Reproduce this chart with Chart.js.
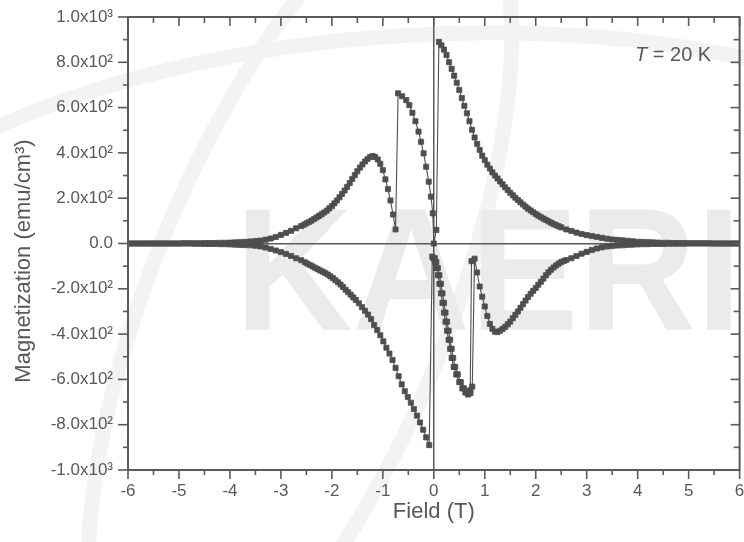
<!DOCTYPE html>
<html>
<head>
<meta charset="utf-8">
<script src="https://cdn.jsdelivr.net/npm/chart.js@4.4.0/dist/chart.umd.min.js"></script>
<style>
  html, body { margin: 0; padding: 0; background: #ffffff; }
  canvas { display: block; }
</style>
</head>
<body>
<canvas id="loop" width="744" height="542"></canvas>
<script>
// M(H) hysteresis loop at T = 20 K. Pairs are [field (T), magnetization (emu/cm^3)].

// Upper branch, field rising
const upperLeft = [
  [-6.0,0],[-5.9,0],[-5.8,0],[-5.7,0],[-5.6,0],[-5.5,0],[-5.4,0],[-5.3,0],[-5.2,0],[-5.1,0],[-5.0,0],
  [-4.9,1],[-4.8,1],[-4.7,1],[-4.6,1],[-4.5,2],[-4.4,2],[-4.3,2],[-4.2,3],[-4.1,3],[-4.0,4],
  [-3.9,5],[-3.8,6],[-3.7,7],[-3.6,9],[-3.5,11],[-3.4,13],[-3.3,17],[-3.2,22],[-3.1,29],[-3.0,38],
  [-2.9,47],[-2.8,56],[-2.7,67],[-2.6,77],[-2.55,83],[-2.5,89],[-2.45,95],[-2.4,101],[-2.35,108],
  [-2.3,115],[-2.25,122],[-2.2,129],[-2.15,137],[-2.1,145],[-2.05,155],[-2.0,165],[-1.95,177],
  [-1.9,190],[-1.85,204],[-1.8,219],[-1.75,234],[-1.7,250],[-1.65,267],[-1.6,285],[-1.55,302],
  [-1.5,319],[-1.45,335],[-1.4,349],[-1.35,362],[-1.3,373],[-1.25,382],[-1.2,386],[-1.15,382],
  [-1.1,371],[-1.05,352],[-1.0,324],[-0.95,283],[-0.9,240],[-0.85,190],[-0.8,128],[-0.75,62]
];
const upperMiddle = [
  [-0.70,663],[-0.62,650],[-0.54,633],[-0.48,611],[-0.42,577],[-0.36,540],[-0.30,494],[-0.25,449],
  [-0.20,398],[-0.15,339],[-0.10,273],[-0.055,207],[-0.02,133],[0.0,0],[0.05,60]
];
const upperRight = [
  [0.10,890],[0.15,875],[0.20,856],[0.25,832],[0.30,800],[0.35,771],[0.40,741],[0.45,710],
  [0.50,678],[0.55,642],[0.60,608],[0.65,575],[0.70,540],[0.75,502],[0.80,468],[0.85,440],
  [0.90,413],[0.95,388],[1.00,368],[1.05,348],[1.10,331],[1.15,314],[1.20,300],[1.25,287],
  [1.30,274],[1.35,261],[1.40,248],[1.45,236],[1.50,224],[1.55,213],[1.60,202],[1.65,192],
  [1.70,182],[1.75,172],[1.80,163],[1.85,154],[1.90,146],[1.95,138],[2.00,130],[2.05,123],
  [2.10,116],[2.15,110],[2.20,104],[2.25,98],[2.30,92],[2.35,86],[2.40,81],[2.45,76],[2.50,71],
  [2.6,62],[2.7,55],[2.8,48],[2.9,42],[3.0,37],[3.1,33],[3.2,29],[3.3,25],[3.4,21],[3.5,18],
  [3.6,16],[3.7,14],[3.8,12],[3.9,10],[4.0,8],[4.1,7],[4.2,6],[4.3,5],[4.4,4],[4.5,3],[4.6,3],
  [4.7,2],[4.8,2],[4.9,2],[5.0,1],[5.1,1],[5.2,1],[5.3,1],[5.4,1],[5.5,0],[5.6,0],[5.7,0],
  [5.8,0],[5.9,0],[6.0,0]
];

// Lower branch, field falling
const lowerRight = [
  [6.0,0],[5.9,0],[5.8,0],[5.7,0],[5.6,0],[5.5,0],[5.4,0],[5.3,0],[5.2,0],[5.1,0],[5.0,0],
  [4.9,-1],[4.8,-1],[4.7,-1],[4.6,-1],[4.5,-2],[4.4,-2],[4.3,-2],[4.2,-3],[4.1,-3],[4.0,-4],
  [3.9,-5],[3.8,-6],[3.7,-8],[3.6,-9],[3.5,-11],[3.4,-13],[3.3,-17],[3.2,-22],[3.1,-29],[3.0,-37],
  [2.9,-45],[2.8,-55],[2.7,-65],[2.6,-73],[2.55,-77],[2.5,-82],[2.45,-89],[2.4,-97],[2.35,-106],
  [2.3,-116],[2.25,-127],[2.2,-140],[2.15,-155],[2.1,-169],[2.05,-182],[2.0,-196],[1.95,-209],
  [1.9,-222],[1.85,-236],[1.8,-252],[1.75,-268],[1.7,-284],[1.65,-300],[1.6,-315],[1.55,-330],
  [1.5,-345],[1.45,-357],[1.4,-368],[1.35,-377],[1.3,-385],[1.25,-391],[1.2,-389],[1.15,-377],
  [1.1,-355],[1.05,-320],[1.0,-278],[0.95,-235],[0.9,-190],[0.85,-128],[0.8,-67]
];
const lowerMiddle = [
  [0.755,-632],[0.72,-660],[0.68,-664],[0.64,-655],[0.59,-639],[0.53,-612],[0.47,-578],[0.42,-545],
  [0.38,-505],[0.35,-465],[0.32,-425],[0.29,-385],[0.26,-345],[0.23,-305],[0.20,-262],[0.17,-220],
  [0.14,-178],[0.11,-140],[0.08,-108],[0.05,-82],[0.02,-65],[-0.03,-58]
];
const lowerLeft = [
  [-0.09,-890],[-0.15,-856],[-0.21,-822],[-0.27,-790],[-0.33,-760],[-0.39,-731],[-0.45,-703],
  [-0.51,-678],[-0.57,-652],[-0.63,-622],[-0.69,-586],[-0.75,-549],[-0.81,-514],[-0.87,-486],
  [-0.93,-460],[-0.99,-432],[-1.05,-405],[-1.11,-382],[-1.17,-360],[-1.23,-334],[-1.29,-314],
  [-1.35,-297],[-1.41,-281],[-1.47,-264],[-1.53,-249],[-1.58,-238],[-1.63,-226],[-1.68,-215],
  [-1.73,-204],[-1.78,-192],[-1.83,-181],[-1.88,-171],[-1.93,-162],[-1.98,-153],[-2.03,-145],
  [-2.08,-137],[-2.13,-130],[-2.18,-124],[-2.23,-119],[-2.28,-113],[-2.33,-107],[-2.38,-101],
  [-2.43,-95],[-2.48,-89],[-2.53,-83],[-2.6,-74],[-2.7,-65],[-2.8,-55],[-2.9,-46],[-3.0,-38],
  [-3.1,-31],[-3.2,-24],[-3.3,-18],[-3.4,-13],[-3.5,-10],[-3.6,-8],[-3.7,-7],[-3.8,-6],[-3.9,-5],
  [-4.0,-4],[-4.1,-3],[-4.2,-3],[-4.3,-2],[-4.4,-2],[-4.5,-2],[-4.6,-1],[-4.7,-1],[-4.8,0],
  [-4.9,0],[-5.0,0],[-5.1,0],[-5.2,0],[-5.3,0],[-5.4,0],[-5.5,0],[-5.6,0],[-5.7,0],[-5.8,0],
  [-5.9,0],[-6.0,0]
];
// Second pass through the low-field part of the falling branch
const lowerRepeat = [
  [0.74,-78],[0.715,-648],[0.67,-667],[0.62,-658],[0.56,-640],[0.50,-612],[0.44,-578],[0.39,-545],
  [0.35,-505],[0.32,-465],[0.29,-425],[0.26,-385],[0.23,-345],[0.20,-305],[0.17,-262],[0.14,-220],
  [0.11,-178],[0.08,-140],[0.05,-108],[0.02,-82],[-0.01,-65]
];

// Axis ticks
const fieldTicks = [-6, -5, -4, -3, -2, -1, 0, 1, 2, 3, 4, 5, 6];
const magTickValues = [-1000, -800, -600, -400, -200, 0, 200, 400, 600, 800, 1000];
const magTickLabels = ['-1.0x10\u00B3', '-8.0x10\u00B2', '-6.0x10\u00B2', '-4.0x10\u00B2', '-2.0x10\u00B2',
  '0.0', '2.0x10\u00B2', '4.0x10\u00B2', '6.0x10\u00B2', '8.0x10\u00B2', '1.0x10\u00B3'];

const FONT = '"Liberation Sans", Arial, Helvetica, sans-serif';
const INK = '#585858';
const AXIS = '#5a5a5a';
const MARK = '#4e4e4e';

const toPoints = pairs => pairs.map(([x, y]) => ({ x, y }));

const markStyle = {
  showLine: true,
  borderColor: MARK,
  borderWidth: 1.1,
  pointStyle: 'rect',
  pointRadius: 3.6,
  pointHoverRadius: 3.6,
  pointBackgroundColor: MARK,
  pointBorderColor: MARK,
  pointBorderWidth: 0.8,
  tension: 0,
  fill: false
};

// Background mark: faint orbit bands and lettering
const watermark = {
  id: 'watermark',
  beforeDraw(chart) {
    const { ctx, width, height } = chart;
    ctx.save();
    ctx.fillStyle = '#ffffff';
    ctx.fillRect(0, 0, width, height);
    ctx.strokeStyle = '#f3f3f3';
    ctx.lineWidth = 15;
    ctx.beginPath();
    ctx.ellipse(420, 300, 620, 265, -0.06, Math.PI, 2 * Math.PI);
    ctx.stroke();
    ctx.beginPath();
    ctx.ellipse(300, 300, 150, 430, 0.38, 0, 2 * Math.PI);
    ctx.stroke();
    ctx.translate(235, 330);
    ctx.scale(0.93, 1);
    ctx.fillStyle = '#ebebeb';
    ctx.font = 'bold 175px ' + FONT;
    ctx.textBaseline = 'alphabetic';
    ctx.fillText('KAERI', 0, 0);
    ctx.restore();
  }
};

// Box frame, major/minor tick marks, y title and temperature note
const frame = {
  id: 'frame',
  afterDraw(chart) {
    const { ctx } = chart;
    const xs = chart.scales.x, ys = chart.scales.y;
    const { left, right, top, bottom } = chart.chartArea;
    ctx.save();
    ctx.strokeStyle = AXIS;
    ctx.lineWidth = 2;
    ctx.strokeRect(left, top, right - left, bottom - top);
    const seg = (x1, y1, x2, y2) => { ctx.beginPath(); ctx.moveTo(x1, y1); ctx.lineTo(x2, y2); ctx.stroke(); };
    ctx.lineWidth = 1.6;
    const xv = xs.ticks.map(t => t.value);
    xv.forEach((v, i) => {
      const p = xs.getPixelForValue(v);
      seg(p, bottom, p, bottom + 9);
      seg(p, top, p, top + 9);
      if (i < xv.length - 1) {
        const q = xs.getPixelForValue((v + xv[i + 1]) / 2);
        seg(q, bottom, q, bottom + 5);
        seg(q, top, q, top + 6);
      }
    });
    const yv = ys.ticks.map(t => t.value);
    yv.forEach((v, i) => {
      const p = ys.getPixelForValue(v);
      seg(left - 10, p, left, p);
      seg(right - 9, p, right, p);
      if (i < yv.length - 1) {
        const q = ys.getPixelForValue((v + yv[i + 1]) / 2);
        seg(left - 5, q, left, q);
        seg(right - 6, q, right, q);
      }
    });

    ctx.fillStyle = INK;
    // y-axis title
    ctx.save();
    ctx.translate(24, 261);
    ctx.rotate(-Math.PI / 2);
    ctx.font = '22px ' + FONT;
    ctx.textAlign = 'center';
    ctx.textBaseline = 'middle';
    ctx.fillText('Magnetization (emu/cm\u00B3)', 0, 0);
    ctx.restore();

    // temperature note
    ctx.textBaseline = 'alphabetic';
    ctx.textAlign = 'left';
    ctx.font = 'italic 20px ' + FONT;
    const tx = 635, ty = 61;
    ctx.fillText('T', tx, ty);
    const tw = ctx.measureText('T').width;
    ctx.font = '20px ' + FONT;
    ctx.fillText(' = 20 K', tx + tw, ty);
    ctx.restore();
  }
};

new Chart(document.getElementById('loop'), {
  type: 'scatter',
  data: {
    datasets: [
      Object.assign({ label: 'upper', data: toPoints([...upperLeft, ...upperMiddle, ...upperRight]) }, markStyle),
      Object.assign({ label: 'lower', data: toPoints([...lowerRight, ...lowerMiddle, ...lowerLeft]) }, markStyle),
      Object.assign({ label: 'lower repeat', data: toPoints(lowerRepeat) }, markStyle)
    ]
  },
  options: {
    responsive: false,
    devicePixelRatio: 1,
    animation: false,
    events: [],
    layout: { padding: { top: 17, right: 3.5, left: 0, bottom: 0 } },
    plugins: { legend: { display: false }, tooltip: { enabled: false } },
    scales: {
      x: {
        type: 'linear',
        position: 'bottom',
        min: -6,
        max: 6,
        afterBuildTicks: s => { s.ticks = fieldTicks.map(v => ({ value: v })); },
        afterFit: s => { s.height = 72; s.paddingLeft = 0; s.paddingRight = 0; },
        border: { display: false },
        grid: {
          drawTicks: false,
          color: c => (c.tick && c.tick.value === 0 ? AXIS : 'rgba(0,0,0,0)'),
          lineWidth: 1.5
        },
        ticks: {
          color: INK,
          font: { family: FONT, size: 17 },
          padding: 11,
          maxRotation: 0,
          autoSkip: false,
          callback: v => String(v)
        },
        title: {
          display: true,
          text: 'Field (T)',
          color: INK,
          font: { family: FONT, size: 22 },
          padding: { top: 0, bottom: 17 }
        }
      },
      y: {
        type: 'linear',
        position: 'left',
        min: -1000,
        max: 1000,
        afterBuildTicks: s => { s.ticks = magTickValues.map(v => ({ value: v })); },
        afterFit: s => { s.width = 128; s.paddingTop = 0; s.paddingBottom = 0; },
        border: { display: false },
        grid: {
          drawTicks: false,
          color: c => (c.tick && c.tick.value === 0 ? AXIS : 'rgba(0,0,0,0)'),
          lineWidth: 1.5
        },
        ticks: {
          color: INK,
          font: { family: FONT, size: 17 },
          padding: 15,
          autoSkip: false,
          callback: v => magTickLabels[magTickValues.indexOf(v)]
        }
      }
    }
  },
  plugins: [watermark, frame]
});
</script>
</body>
</html>
